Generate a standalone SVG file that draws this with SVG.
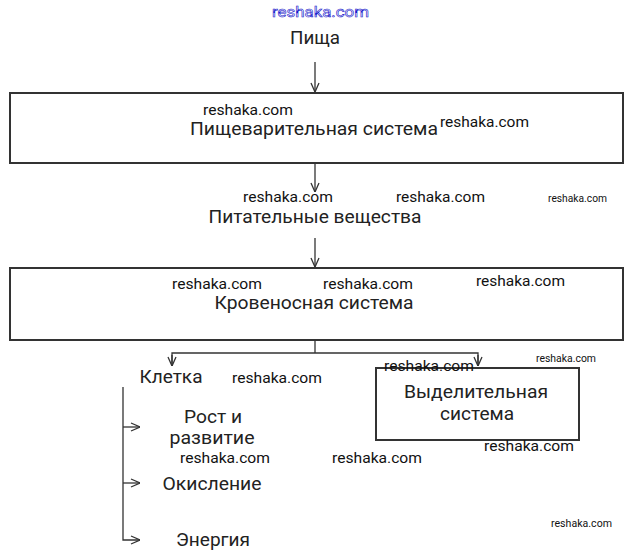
<svg xmlns="http://www.w3.org/2000/svg" width="639" height="556" viewBox="0 0 639 556">
<style>
.t{font-family:Roboto,"Liberation Sans",sans-serif;font-size:18px;fill:#222;text-anchor:middle}
.w{font-family:Roboto,"Liberation Sans",sans-serif;font-size:15px;fill:#111}
.ws{font-family:Roboto,"Liberation Sans",sans-serif;font-size:11px;fill:#111}
.box{fill:#fff;stroke:#333;stroke-width:2}
.ln{fill:none;stroke:#333;stroke-width:1.3}
</style>
<defs>
<marker id="a" viewBox="0 0 10 10" refX="10" refY="5" markerWidth="10" markerHeight="10" markerUnits="userSpaceOnUse" orient="auto">
<path d="M1,1 L10,5 L1,9" fill="none" stroke="#333" stroke-width="1.3"/>
</marker>
</defs>
<rect width="639" height="556" fill="#fff"/>
<g id="food"><text class="t" x="315" y="44" textLength="50" lengthAdjust="spacingAndGlyphs">Пища</text></g>
<g id="digestive">
<rect class="box" x="10" y="93" width="613" height="70"/>
<text class="t" x="314" y="135" textLength="248" lengthAdjust="spacingAndGlyphs">Пищеварительная система</text>
</g>
<g id="nutrients"><text class="t" x="315" y="223" textLength="213" lengthAdjust="spacingAndGlyphs">Питательные вещества</text></g>
<g id="circulatory">
<rect class="box" x="10" y="268" width="613" height="72"/>
<text class="t" x="314" y="309" textLength="199" lengthAdjust="spacingAndGlyphs">Кровеносная система</text>
</g>
<g id="cell"><text class="t" x="171" y="383" textLength="63" lengthAdjust="spacingAndGlyphs">Клетка</text></g>
<g id="excretory">
<rect class="box" x="376" y="368" width="203" height="72"/>
<text class="t" x="476" y="398" textLength="144" lengthAdjust="spacingAndGlyphs">Выделительная</text>
<text class="t" x="477" y="420" textLength="74" lengthAdjust="spacingAndGlyphs">система</text>
</g>
<g id="growth"><text class="t" x="213" y="423" textLength="58" lengthAdjust="spacingAndGlyphs">Рост и</text><text class="t" x="212" y="444" textLength="85" lengthAdjust="spacingAndGlyphs">развитие</text></g>
<g id="oxidation"><text class="t" x="212" y="490" textLength="99" lengthAdjust="spacingAndGlyphs">Окисление</text></g>
<g id="energy"><text class="t" x="213" y="546" textLength="74" lengthAdjust="spacingAndGlyphs">Энергия</text></g>
<g id="connectors">
<path class="ln" d="M315,62 V92" marker-end="url(#a)"/>
<path class="ln" d="M315,164 V192" marker-end="url(#a)"/>
<path class="ln" d="M315,238 V267" marker-end="url(#a)"/>
<path class="ln" d="M315,341 V353"/>
<path class="ln" d="M172,366 V353 H478 V366"/>
<path class="ln" d="M172,355 V366" marker-end="url(#a)"/>
<path class="ln" d="M478,355 V366" marker-end="url(#a)"/>
<path class="ln" d="M123,387 V540 H140" marker-end="url(#a)"/>
<path class="ln" d="M123,427 H140" marker-end="url(#a)"/>
<path class="ln" d="M123,483 H140" marker-end="url(#a)"/>
</g>
<g id="watermarks">
<text x="272" y="17" style="font-family:Roboto,sans-serif;font-size:15px;fill:#fff;stroke:#1a1acc;stroke-width:0.6" textLength="97" lengthAdjust="spacingAndGlyphs">reshaka.com</text>
<text class="w" x="203" y="115" textLength="90" lengthAdjust="spacingAndGlyphs">reshaka.com</text>
<text class="w" x="440" y="127" textLength="89" lengthAdjust="spacingAndGlyphs">reshaka.com</text>
<text class="w" x="243" y="202" textLength="90" lengthAdjust="spacingAndGlyphs">reshaka.com</text>
<text class="w" x="396" y="202" textLength="89" lengthAdjust="spacingAndGlyphs">reshaka.com</text>
<text class="ws" x="548" y="202" textLength="59" lengthAdjust="spacingAndGlyphs">reshaka.com</text>
<text class="w" x="172" y="289" textLength="90" lengthAdjust="spacingAndGlyphs">reshaka.com</text>
<text class="w" x="323" y="289" textLength="90" lengthAdjust="spacingAndGlyphs">reshaka.com</text>
<text class="w" x="476" y="286" textLength="89" lengthAdjust="spacingAndGlyphs">reshaka.com</text>
<text class="w" x="232" y="383" textLength="90" lengthAdjust="spacingAndGlyphs">reshaka.com</text>
<text class="w" x="384" y="371" textLength="90" lengthAdjust="spacingAndGlyphs">reshaka.com</text>
<text class="ws" x="536" y="362" textLength="60" lengthAdjust="spacingAndGlyphs">reshaka.com</text>
<text class="w" x="484" y="451" textLength="90" lengthAdjust="spacingAndGlyphs">reshaka.com</text>
<text class="w" x="180" y="463" textLength="90" lengthAdjust="spacingAndGlyphs">reshaka.com</text>
<text class="w" x="332" y="463" textLength="90" lengthAdjust="spacingAndGlyphs">reshaka.com</text>
<text class="ws" x="551" y="527" textLength="61" lengthAdjust="spacingAndGlyphs">reshaka.com</text>
</g>
</svg>
